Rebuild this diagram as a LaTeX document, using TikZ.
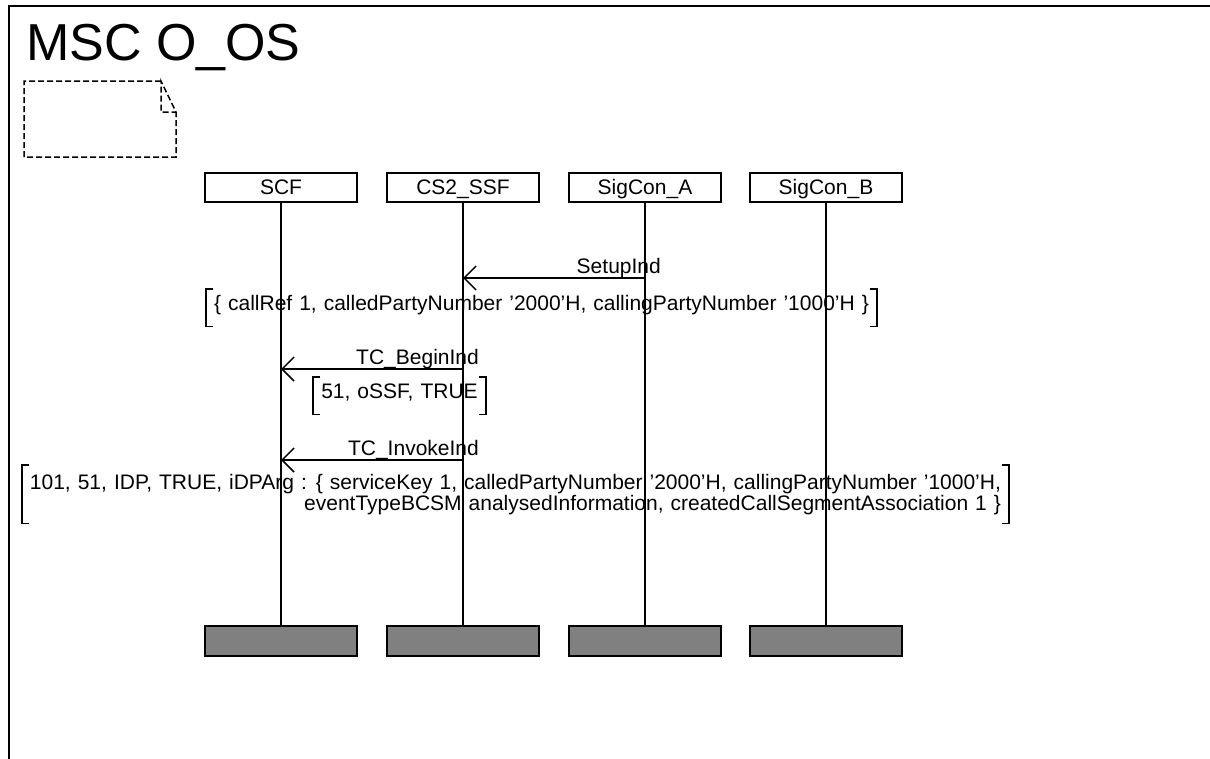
\documentclass[tikz,border=0pt]{standalone}
\usepackage{fontspec}
\setmainfont{Liberation Sans}
\usetikzlibrary{arrows.meta, calc}
\newcommand\msgfont{\fontsize{21}{19}\selectfont\spaceskip=7pt\relax}

\begin{document}
\begin{tikzpicture}[x=1pt, y=-1pt]

% TikZ styles
\tikzset{
  instance/.style={rectangle, draw=black, line width=1.5pt, minimum width=152pt, minimum height=29pt, inner sep=0pt, font=\msgfont, text height=14pt, text depth=0pt},
  instend/.style={rectangle, draw=black, fill=gray, line width=1.5pt, minimum width=152pt, minimum height=30pt, inner sep=0pt},
  lifeline/.style={line width=1.5pt},
  msg/.style={-{Straight Barb[length=12pt, width=24pt]}, line width=1.5pt},
  msglabel/.style={font=\msgfont, inner sep=0pt, anchor=base east},
  param/.style={font=\msgfont, inner xsep=8pt, inner ysep=9pt, anchor=north},
  oneline/.style={text height=12pt, text depth=7pt},
  brk/.style={line width=1.5pt},
  note/.style={line width=1.5pt, dash pattern=on 6pt off 3pt}
}

\useasboundingbox (0,0) rectangle (1210,758);

%==========================
% Rahmen und Titel
%==========================
\draw[line width=2pt] (9,770) -- (9,6) -- (1220,6);
\node[anchor=base west, inner sep=0pt, font=\fontsize{52}{60}\selectfont] (title) at (26,60) {MSC O\_OS};

% Kommentar-Symbol
\draw[note] (161,81) -- (24,81) -- (24,157) -- (176,157) -- (176,112) -- (161,81) -- (161,112) -- (176,112);

%==========================
% Instanzen
%==========================
\node[instance] (scf)  at (281,187.5) {SCF};
\node[instance] (ssf)  at (463,187.5) {CS2\_SSF};
\node[instance] (sigA) at (645,187.5) {SigCon\_A};
\node[instance] (sigB) at (826,187.5) {SigCon\_B};

\node[instend] (scfEnd)  at (scf |- 0,641)  {};
\node[instend] (ssfEnd)  at (ssf |- 0,641)  {};
\node[instend] (sigAEnd) at (sigA |- 0,641) {};
\node[instend] (sigBEnd) at (sigB |- 0,641) {};

\draw[lifeline] (scf.south) -- (scfEnd.north);
\draw[lifeline] (ssf.south) -- (ssfEnd.north);
\draw[lifeline] (sigA.south) -- (sigAEnd.north);
\draw[lifeline] (sigB.south) -- (sigBEnd.north);

%==========================
% Nachrichten
%==========================
\coordinate (m1) at (0,278);
\coordinate (m2) at (0,369);
\coordinate (m3) at (0,460);

\draw[msg] (sigA |- m1) -- (ssf |- m1);
\node[msglabel] (setupLbl) at ($(sigA |- m1)+(16,-5)$) {SetupInd};
\node[param, oneline] (setupPar) at (541.5,289) {\{ callRef 1, calledPartyNumber ’2000’H, callingPartyNumber ’1000’H \}};

\draw[msg] (ssf |- m2) -- (scf |- m2);
\node[msglabel] (beginLbl) at ($(ssf |- m2)+(16,-5)$) {TC\_BeginInd};
\node[param, oneline] (beginPar) at (399.5,377) {51, oSSF, TRUE};

\draw[msg] (ssf |- m3) -- (scf |- m3);
\node[msglabel] (invokeLbl) at ($(ssf |- m3)+(16,-5)$) {TC\_InvokeInd};
\node[param, align=right] (invokePar) at (515.5,465)
  {101, 51, IDP, TRUE, iDPArg : \{ serviceKey 1, calledPartyNumber ’2000’H, callingPartyNumber ’1000’H,\\
   eventTypeBCSM analysedInformation, createdCallSegmentAssociation 1 \}};

% Klammern um die Parameter
\foreach \p in {setupPar, beginPar, invokePar} {
  \draw[brk] ([xshift=7pt]\p.north west) -| (\p.south west) -- ++(7,0);
  \draw[brk] ([xshift=-7pt]\p.north east) -| (\p.south east) -- ++(-7,0);
}
\end{tikzpicture}
\end{document}
